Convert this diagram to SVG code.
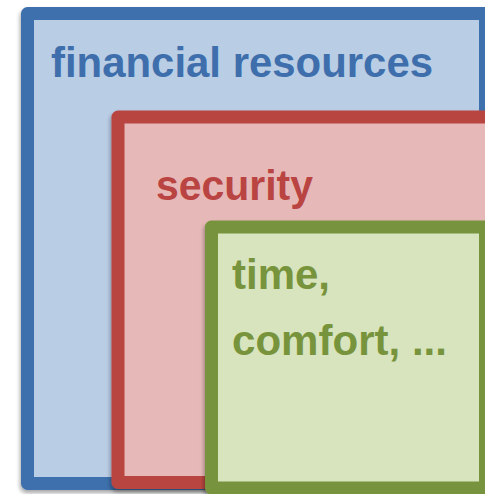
<svg xmlns="http://www.w3.org/2000/svg" width="485" height="494" viewBox="0 0 485 494">
<defs>
<filter id="sh" x="-10%" y="-10%" width="120%" height="120%">
<feGaussianBlur in="SourceAlpha" stdDeviation="2"/>
<feOffset dx="-1" dy="3" result="b"/>
<feComponentTransfer><feFuncA type="linear" slope="0.35"/></feComponentTransfer>
<feMerge><feMergeNode/><feMergeNode in="SourceGraphic"/></feMerge>
</filter>
<style>
.box{stroke-width:13;stroke-linejoin:round}
.lbl{font-family:"Liberation Sans",Arial,sans-serif;font-weight:bold;font-size:42px}
</style>
</defs>
<rect width="485" height="494" fill="#ffffff"/>
<g id="financial">
<rect class="box" x="27.5" y="13.5" width="458" height="470" fill="#b9cde5" stroke="#3e6fac" filter="url(#sh)"/>
<text class="lbl" x="51" y="77" fill="#3e6fac" textLength="382" lengthAdjust="spacingAndGlyphs">financial resources</text>
</g>
<g id="security">
<rect class="box" x="118" y="117" width="467" height="365.5" fill="#e6b9b8" stroke="#b94441" filter="url(#sh)"/>
<text class="lbl" x="156" y="200" fill="#b94441" textLength="157" lengthAdjust="spacingAndGlyphs">security</text>
</g>
<g id="time">
<rect class="box" x="211.5" y="227" width="274" height="261" fill="#d7e4bd" stroke="#77933c" filter="url(#sh)"/>
<text class="lbl" x="232" y="289" fill="#77933c">time,</text>
<text class="lbl" x="232" y="355" fill="#77933c" textLength="215" lengthAdjust="spacingAndGlyphs">comfort, ...</text>
</g>
<g id="connectors"/>
</svg>
